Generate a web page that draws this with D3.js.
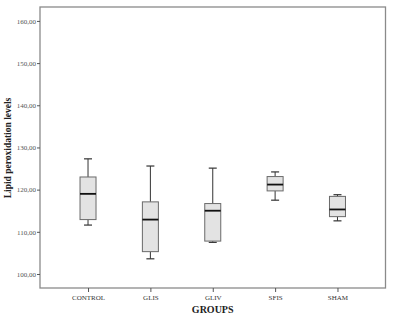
<!DOCTYPE html>
<html><head><meta charset="utf-8">
<script src="https://cdn.jsdelivr.net/npm/d3@7"></script>
<style>body{margin:0;background:#fff}</style>
</head><body>
<svg id="c" width="395" height="321"></svg>
<script>
const categories = ["CONTROL","GLIS","GLIV","SFIS","SHAM"];
const whiskerLow  = [111.6, 103.6, 107.5, 117.5, 112.6];
const q1          = [112.9, 105.3, 107.8, 119.7, 113.6];
const median      = [119.0, 112.9, 115.0, 121.2, 115.3];
const q3          = [123.0, 117.1, 116.7, 123.1, 118.4];
const whiskerHigh = [127.3, 125.6, 125.1, 124.2, 118.8];
const yTicks = [100,110,120,130,140,150,160];

const svg = d3.select("#c");
const L=40, R=385.5, T=7, B=288;
const y = d3.scaleLinear().domain([96.68,163.3]).range([B,T]);
const x = d3.scalePoint().domain(categories).range([L,R]).padding(0.77);
const serif = "'Liberation Serif','DejaVu Serif',serif";

svg.append("rect").attr("x",L).attr("y",T).attr("width",R-L).attr("height",B-T)
  .attr("fill","#fff").attr("stroke","#8a8a8a").attr("stroke-width",1.3);

const fmt = d => d.toFixed(2).replace(".",",");
const ya = svg.append("g").attr("transform",`translate(${L},0)`)
  .call(d3.axisLeft(y).tickValues(yTicks).tickFormat(fmt).tickSize(3).tickPadding(1));
ya.select(".domain").remove();
ya.selectAll("line").attr("stroke","#555");
ya.selectAll("text").attr("font-family",serif).attr("font-size",7).attr("fill","#555");

const xa = svg.append("g").attr("transform",`translate(0,${B})`)
  .call(d3.axisBottom(x).tickSize(4).tickPadding(3));
xa.select(".domain").remove();
xa.selectAll("line").attr("stroke","#555");
xa.selectAll("text").attr("font-family",serif).attr("font-size",7).attr("fill","#333");

svg.append("text").attr("x",212.7).attr("y",313).attr("text-anchor","middle")
  .attr("font-family",serif).attr("font-weight","bold").attr("font-size",10).attr("fill","#222").text("GROUPS");
svg.append("text").attr("transform","translate(11,148) rotate(-90)").attr("text-anchor","middle")
  .attr("font-family",serif).attr("font-weight","bold").attr("font-size",9.5).attr("fill","#222").text("Lipid peroxidation levels");

const bw=16, cap=8;
const g = svg.append("g");
categories.forEach((c,i)=>{
  const cx = x(c);
  const gg = g.append("g");
  gg.append("line").attr("x1",cx).attr("x2",cx).attr("y1",y(q3[i])).attr("y2",y(whiskerHigh[i])).attr("stroke","#333").attr("stroke-width",1);
  gg.append("line").attr("x1",cx).attr("x2",cx).attr("y1",y(q1[i])).attr("y2",y(whiskerLow[i])).attr("stroke","#333").attr("stroke-width",1);
  gg.append("line").attr("x1",cx-cap/2).attr("x2",cx+cap/2).attr("y1",y(whiskerHigh[i])).attr("y2",y(whiskerHigh[i])).attr("stroke","#333").attr("stroke-width",1.2);
  gg.append("line").attr("x1",cx-cap/2).attr("x2",cx+cap/2).attr("y1",y(whiskerLow[i])).attr("y2",y(whiskerLow[i])).attr("stroke","#333").attr("stroke-width",1.2);
  gg.append("rect").attr("x",cx-bw/2).attr("y",y(q3[i])).attr("width",bw).attr("height",y(q1[i])-y(q3[i]))
    .attr("fill","#e3e3e3").attr("stroke","#6a6a6a").attr("stroke-width",1);
  gg.append("line").attr("x1",cx-bw/2).attr("x2",cx+bw/2).attr("y1",y(median[i])).attr("y2",y(median[i])).attr("stroke","#111").attr("stroke-width",1.8);
});
</script>
</body></html>
